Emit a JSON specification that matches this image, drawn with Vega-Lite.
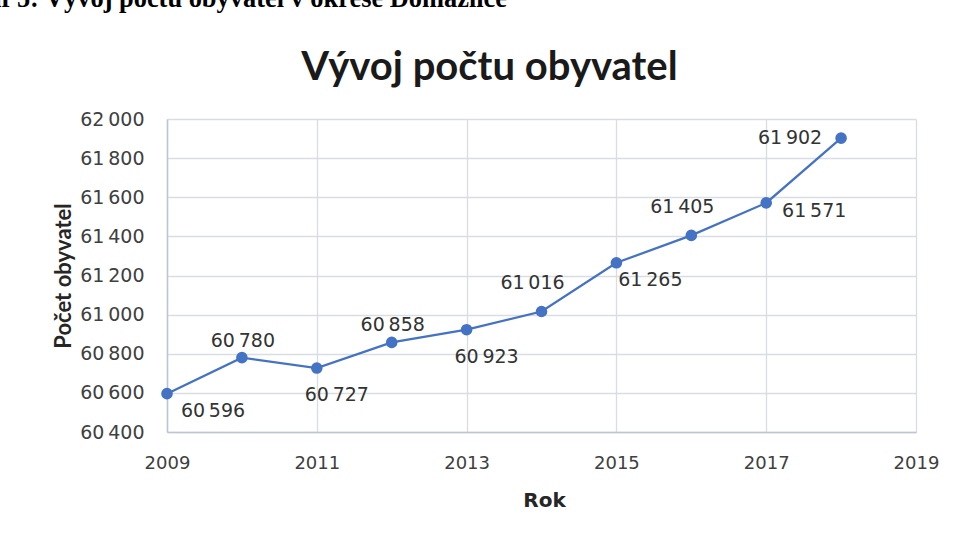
{
  "$schema": "https://vega.github.io/schema/vega-lite/v6.json",
  "width": 749,
  "height": 313,
  "autosize": {"type": "none"},
  "padding": {"left": 167, "top": 119, "right": 40, "bottom": 108},
  "background": "white",
  "title": {
    "text": "Graf 5: Vývoj počtu obyvatel v okrese Domažlice",
    "anchor": "end",
    "frame": "group",
    "dx": -409,
    "offset": 14,
    "font": "Liberation Serif",
    "fontSize": 26.4,
    "fontWeight": "bold",
    "color": "#000000",
    "baseline": "alphabetic"
  },
  "data": {
    "values": [
      {"rok": 2009, "obyvatel": 60596},
      {"rok": 2010, "obyvatel": 60780},
      {"rok": 2011, "obyvatel": 60727},
      {"rok": 2012, "obyvatel": 60858},
      {"rok": 2013, "obyvatel": 60923},
      {"rok": 2014, "obyvatel": 61016},
      {"rok": 2015, "obyvatel": 61265},
      {"rok": 2016, "obyvatel": 61405},
      {"rok": 2017, "obyvatel": 61571},
      {"rok": 2018, "obyvatel": 61902}
    ]
  },
  "layer": [
    {
      "mark": {"type": "line", "color": "#4472C4", "strokeWidth": 2.25},
      "encoding": {
        "x": {
          "field": "rok", "type": "quantitative",
          "scale": {"domain": [2009, 2019], "nice": false, "zero": false},
          "axis": {
            "orient": "bottom",
            "values": [2009, 2011, 2013, 2015, 2017, 2019],
            "format": "d",
            "title": "Rok",
            "grid": true, "gridColor": "#d9dde3", "gridWidth": 1.3,
            "ticks": false,
            "domainColor": "#bcc6d3", "domainWidth": 1.5,
            "labelFont": "DejaVu Sans", "labelFontSize": 18, "labelColor": "#404040",
            "labelPadding": 22, "labelFlush": false, "labelOverlap": false,
            "titleFont": "DejaVu Sans", "titleFontSize": 20, "titleFontWeight": "bold", "titleColor": "#262626",
            "titleX": 377, "titleY": 74, "titleAlign": "center", "titleBaseline": "alphabetic"
          }
        },
        "y": {
          "field": "obyvatel", "type": "quantitative",
          "scale": {"domain": [60400, 62000], "nice": false, "zero": false},
          "axis": {
            "orient": "left",
            "values": [60400, 60600, 60800, 61000, 61200, 61400, 61600, 61800, 62000],
            "format": ",d",
            "title": "Počet obyvatel",
            "grid": true, "gridColor": "#d9dde3", "gridWidth": 1.3,
            "ticks": false,
            "domainColor": "#bcc6d3", "domainWidth": 1.5,
            "labelFont": "DejaVu Sans", "labelFontSize": 19, "labelColor": "#404040",
            "labelPadding": 23, "labelOverlap": false,
            "titleFont": "Lato", "titleFontSize": 22, "titleFontWeight": "bold", "titleColor": "#262626",
            "titleX": -97, "titleY": 156.5, "titleAngle": 270, "titleAlign": "center", "titleBaseline": "alphabetic"
          }
        }
      }
    },
    {
      "mark": {"type": "point", "filled": true, "color": "#4472C4", "size": 135, "opacity": 1},
      "encoding": {
        "x": {
          "field": "rok", "type": "quantitative",
          "scale": {"domain": [2009, 2019], "nice": false, "zero": false},
          "axis": {
            "orient": "top",
            "labels": false, "ticks": false, "domain": false, "grid": false,
            "title": "Vývoj počtu obyvatel",
            "titleFont": "Lato", "titleFontSize": 40, "titleFontWeight": "bold", "titleColor": "#1a1a1a",
            "titleX": 322, "titleY": -40, "titleAlign": "center", "titleBaseline": "alphabetic",
            "titleAngle": 0, "titleLimit": 2000
          }
        },
        "y": {"field": "obyvatel", "type": "quantitative", "axis": null}
      }
    },
    {
      "transform": [{"filter": {"field": "rok", "oneOf": [2010, 2012]}}],
      "mark": {"type": "text", "font": "DejaVu Sans", "fontSize": 19, "color": "#333333", "align": "center", "baseline": "middle", "dx": 1, "dy": -17},
      "encoding": {
        "x": {"field": "rok", "type": "quantitative", "axis": null},
        "y": {"field": "obyvatel", "type": "quantitative", "axis": null},
        "text": {"field": "obyvatel", "type": "quantitative", "format": ",d"}
      }
    },
    {
      "transform": [{"filter": {"field": "rok", "oneOf": [2014, 2016]}}],
      "mark": {"type": "text", "font": "DejaVu Sans", "fontSize": 19, "color": "#333333", "align": "center", "baseline": "middle", "dx": -9, "dy": -28},
      "encoding": {
        "x": {"field": "rok", "type": "quantitative", "axis": null},
        "y": {"field": "obyvatel", "type": "quantitative", "axis": null},
        "text": {"field": "obyvatel", "type": "quantitative", "format": ",d"}
      }
    },
    {
      "transform": [{"filter": {"field": "rok", "oneOf": [2011, 2013]}}],
      "mark": {"type": "text", "font": "DejaVu Sans", "fontSize": 19, "color": "#333333", "align": "center", "baseline": "middle", "dx": 20, "dy": 27},
      "encoding": {
        "x": {"field": "rok", "type": "quantitative", "axis": null},
        "y": {"field": "obyvatel", "type": "quantitative", "axis": null},
        "text": {"field": "obyvatel", "type": "quantitative", "format": ",d"}
      }
    },
    {
      "transform": [{"filter": {"field": "rok", "oneOf": [2009]}}],
      "mark": {"type": "text", "font": "DejaVu Sans", "fontSize": 19, "color": "#333333", "align": "center", "baseline": "middle", "dx": 46, "dy": 17},
      "encoding": {
        "x": {"field": "rok", "type": "quantitative", "axis": null},
        "y": {"field": "obyvatel", "type": "quantitative", "axis": null},
        "text": {"field": "obyvatel", "type": "quantitative", "format": ",d"}
      }
    },
    {
      "transform": [{"filter": {"field": "rok", "oneOf": [2015]}}],
      "mark": {"type": "text", "font": "DejaVu Sans", "fontSize": 19, "color": "#333333", "align": "center", "baseline": "middle", "dx": 34, "dy": 17},
      "encoding": {
        "x": {"field": "rok", "type": "quantitative", "axis": null},
        "y": {"field": "obyvatel", "type": "quantitative", "axis": null},
        "text": {"field": "obyvatel", "type": "quantitative", "format": ",d"}
      }
    },
    {
      "transform": [{"filter": {"field": "rok", "oneOf": [2017]}}],
      "mark": {"type": "text", "font": "DejaVu Sans", "fontSize": 19, "color": "#333333", "align": "center", "baseline": "middle", "dx": 48, "dy": 8},
      "encoding": {
        "x": {"field": "rok", "type": "quantitative", "axis": null},
        "y": {"field": "obyvatel", "type": "quantitative", "axis": null},
        "text": {"field": "obyvatel", "type": "quantitative", "format": ",d"}
      }
    },
    {
      "transform": [{"filter": {"field": "rok", "oneOf": [2018]}}],
      "mark": {"type": "text", "font": "DejaVu Sans", "fontSize": 19, "color": "#333333", "align": "center", "baseline": "middle", "dx": -51, "dy": 0},
      "encoding": {
        "x": {"field": "rok", "type": "quantitative", "axis": null},
        "y": {"field": "obyvatel", "type": "quantitative", "axis": null},
        "text": {"field": "obyvatel", "type": "quantitative", "format": ",d"}
      }
    }
  ],
  "resolve": {"axis": {"x": "independent", "y": "independent"}},
  "config": {
    "view": {"stroke": null},
    "locale": {
      "number": {"decimal": ",", "thousands": "\u202f", "grouping": [3], "currency": ["", "\u00a0Kč"]}
    }
  }
}
